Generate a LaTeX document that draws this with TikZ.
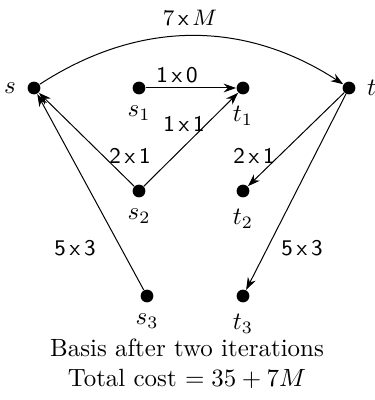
\documentclass[tikz,border=0pt]{standalone}
\usepackage{tikz}
\usetikzlibrary{arrows.meta,positioning}

\begin{document}
\begin{tikzpicture}[
    x=0.0141cm, y=0.0141cm,
    dot/.style={circle, fill, inner sep=0pt, minimum size=0.18cm},
    cost/.style={font=\sffamily\small, inner sep=1pt},
    >={Stealth[length=5pt,width=3.5pt]},
    every label/.style={label distance=1pt}
]
\useasboundingbox (0,0) rectangle (374,400);
% sources and sinks
\node[dot, label=left:$s$] (s) at (34,312) {};
\node[dot, label=right:$t$] (t) at (349,312) {};
\node[dot, label=below:$s_1$] (s1) at (139,312) {};
\node[dot, label=below:$t_1$] (t1) at (243,312) {};
\node[dot, label=below:$s_2$] (s2) at (139,209) {};
\node[dot, label=below:$t_2$] (t2) at (243,209) {};
\node[dot, label=below:$s_3$] (s3) at (147,104) {};
\node[dot, label=below:$t_3$] (t3) at (243,104) {};
% basis arcs
\draw[->] (s) to[bend left=33] (t);
\draw[->] (s1) -- (t1);
\draw[->] (s2) -- (t1);
\draw[->] (s2) -- (s);
\draw[->] (s3) -- (s);
\draw[->] (t) -- (t2);
\draw[->] (t) -- (t3);
% flow x cost
\node[cost] (ctop) at (190,382) {$7$\,x\,$M$};
\node[cost] (c11) at (177,325) {1\,x\,0};
\node[cost] (c21) at (184,276) {1\,x\,1};
\node[cost] (c22) at (130,244) {2\,x\,1};
\node[cost] (c42) at (254,244) {2\,x\,1};
\node[cost] (c13) at (75,152) {5\,x\,3};
\node[cost] (c43) at (302,152) {5\,x\,3};
\node[align=center] (caption) at (187,36) {Basis after two iterations\\Total cost $=35+7M$};
\end{tikzpicture}
\end{document}
